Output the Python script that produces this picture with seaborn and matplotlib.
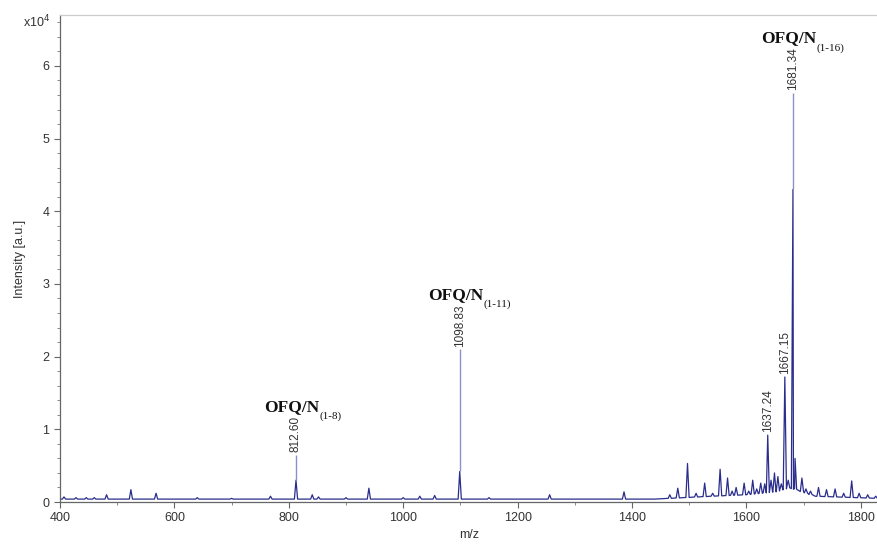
import numpy as np
import pandas as pd
import seaborn as sns
import matplotlib.pyplot as plt
from matplotlib.ticker import MultipleLocator, FuncFormatter

# peak table (intensity in units of 1e4)
peak_mz = [407, 428, 446, 460, 481.5, 524, 568, 640, 700, 768, 812.60, 841, 852, 900, 940,
           1000, 1029, 1055, 1098.83, 1150, 1256, 1386, 1466, 1480, 1497, 1512, 1527, 1541,
           1554, 1567, 1575, 1582, 1596, 1604, 1611, 1618, 1625, 1632, 1637.24, 1643, 1649,
           1655, 1661, 1667.15, 1673, 1681.34, 1685, 1697, 1704, 1712, 1726, 1740, 1755,
           1770, 1784, 1797, 1812, 1826]
peak_int = [0.07, 0.06, 0.06, 0.06, 0.10, 0.17, 0.12, 0.06, 0.05, 0.08, 0.30, 0.10, 0.07, 0.06, 0.19,
            0.06, 0.08, 0.09, 0.42, 0.06, 0.10, 0.14, 0.10, 0.19, 0.53, 0.12, 0.26, 0.12,
            0.45, 0.33, 0.15, 0.20, 0.26, 0.15, 0.30, 0.18, 0.26, 0.25, 0.92, 0.30, 0.40,
            0.35, 0.25, 1.72, 0.30, 4.30, 0.60, 0.33, 0.18, 0.15, 0.20, 0.17, 0.18,
            0.12, 0.29, 0.12, 0.10, 0.08]

# baseline level
base_mz = [400, 1440, 1540, 1600, 1650, 1675, 1695, 1720, 1830]
base_int = [0.04, 0.04, 0.08, 0.10, 0.14, 0.20, 0.15, 0.08, 0.05]

# narrow apex of the main peaks
tip_mz = [812.60, 1098.83, 1681.34]
tip_top = [0.65, 2.10, 5.63]

# labelled peaks
label_mz = [812.60, 1098.83, 1637.24, 1667.15, 1681.34]
label_top = [0.65, 2.10, 0.92, 1.72, 5.63]
label_txt = ["812.60", "1098.83", "1637.24", "1667.15", "1681.34"]

# fragment names (attached to the labelled peaks above)
frag_mz = [812.60, 1098.83, 1681.34]
frag_sub = ["(1-8)", "(1-11)", "(1-16)"]

scale = 1e4
w = 2.8
xs, ys = [], []
for m, h in zip(peak_mz, peak_int):
    b = np.interp(m, base_mz, base_int)
    xs += [m - w, m, m + w]
    ys += [b, h, b]
for m, b in zip(base_mz, base_int):
    if min(abs(m - p) for p in peak_mz) > w:
        xs.append(m)
        ys.append(b)
spec = pd.DataFrame({"mz": xs, "I": np.array(ys) * scale}).sort_values("mz")

sns.set_style("ticks")
plt.rcParams['font.family'] = ['Liberation Sans', 'DejaVu Sans']

fig = plt.figure(figsize=(8.78, 5.44), dpi=100)
ax = fig.add_axes([0.0683, 0.0772, 0.9317, 0.8952])

line_col = '#2a2d8c'
sns.lineplot(data=spec, x="mz", y="I", ax=ax, color=line_col, lw=0.9,
             sort=False, estimator=None)
ax.vlines(tip_mz, [peak_int[peak_mz.index(m)] * scale for m in tip_mz],
          np.array(tip_top) * scale, color='#8f90c4', lw=1.0)

ax.set_xlim(400, 1830)
ax.set_ylim(0, 67000)
ax.xaxis.set_major_locator(MultipleLocator(200))
ax.xaxis.set_minor_locator(MultipleLocator(100))
ax.yaxis.set_major_locator(MultipleLocator(1e4))
ax.yaxis.set_minor_locator(MultipleLocator(2e3))
ax.yaxis.set_major_formatter(FuncFormatter(lambda v, p: f"{v/scale:g}"))

for s in ['left', 'bottom']:
    ax.spines[s].set_color('#666666')
    ax.spines[s].set_linewidth(0.9)
ax.spines['top'].set_color('#cccccc')
ax.spines['top'].set_linewidth(0.9)
ax.spines['right'].set_visible(False)
ax.tick_params(axis='both', which='major', labelsize=9, colors='#666666',
               labelcolor='#333333', length=4, width=0.8)
ax.tick_params(axis='both', which='minor', colors='#888888', length=2.5, width=0.7)

ax.set_xlabel("m/z", fontsize=9, color='#333333', labelpad=3)
ax.set_ylabel("Intensity [a.u.]", fontsize=9, color='#333333', labelpad=12)
ax.text(-0.012, 66000, r"x10$^4$", transform=ax.get_yaxis_transform(),
        ha='right', va='center', fontsize=9, color='#333333')

labels = {}
for m, t, s in zip(label_mz, label_top, label_txt):
    labels[m] = ax.annotate(s, xy=(m, t * scale), xytext=(0, 2), textcoords='offset points',
                            rotation=90, ha='center', va='bottom', fontsize=8.5,
                            color='#333333')

for m, sub in zip(frag_mz, frag_sub):
    main = ax.annotate("OFQ/N", xy=(0.5, 1), xycoords=labels[m], xytext=(-23, 3.5),
                       textcoords='offset points', ha='left', va='baseline',
                       fontsize=12.5, fontweight='bold', family='Liberation Serif',
                       color='#111111')
    ax.annotate(sub, xy=(1, 0), xycoords=main, xytext=(0.5, 2.5),
                textcoords='offset points', ha='left', va='top',
                fontsize=8, family='Liberation Serif', color='#111111')

plt.savefig("out.png", dpi=100)
